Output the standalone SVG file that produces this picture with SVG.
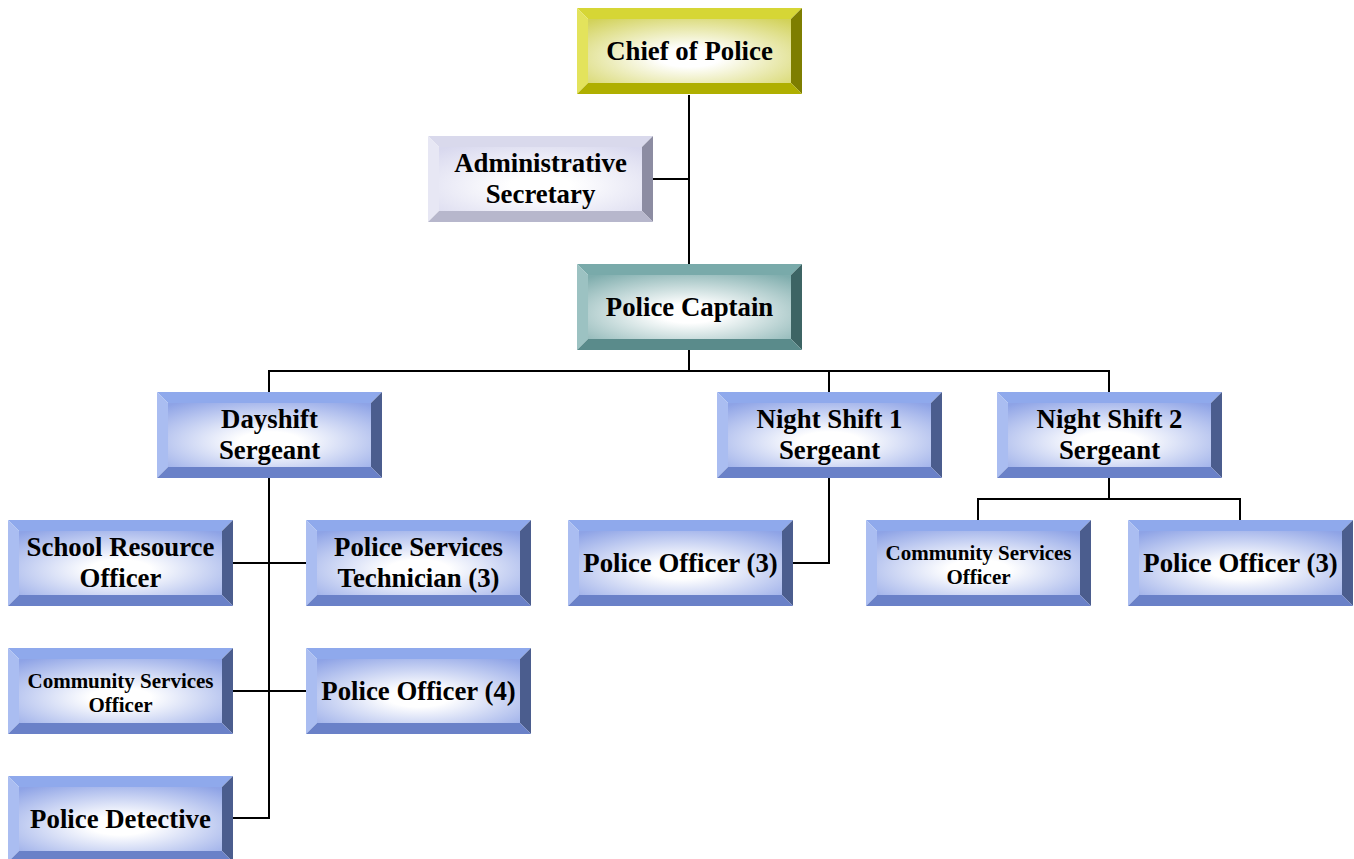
<svg xmlns="http://www.w3.org/2000/svg" xmlns:xlink="http://www.w3.org/1999/xlink" width="1354" height="859" viewBox="0 0 1354 859">
<style>
text{font-family:"Liberation Serif","Times New Roman",serif;font-weight:bold;font-size:26.8px;fill:#000;text-anchor:middle}
text.sm{font-size:21px}
.conn path{fill:none;stroke:#000;stroke-width:2}
</style>
<defs>
<radialGradient id="gB" cx="0.5" cy="0.6" r="0.75"><stop offset="0.2" stop-color="#fff"/><stop offset="1" stop-color="#8ea3e6"/></radialGradient>
<radialGradient id="gY" cx="0.5" cy="0.6" r="0.75"><stop offset="0.2" stop-color="#fff"/><stop offset="1" stop-color="#d2d25a"/></radialGradient>
<radialGradient id="gL" cx="0.5" cy="0.6" r="0.75"><stop offset="0.2" stop-color="#fff"/><stop offset="1" stop-color="#d8d8ee"/></radialGradient>
<radialGradient id="gT" cx="0.5" cy="0.6" r="0.75"><stop offset="0.2" stop-color="#fff"/><stop offset="1" stop-color="#7fadad"/></radialGradient>
<g id="boxB">
<polygon points="0,0 225,0 214,11 11,11" fill="#8fa9ec"/>
<polygon points="0,0 11,11 11,75 0,86" fill="#aabdf1"/>
<polygon points="225,0 225,86 214,75 214,11" fill="#4b5d8e"/>
<polygon points="0,86 225,86 214,75 11,75" fill="#6a81c8"/>
<rect x="11" y="11" width="203" height="64" fill="url(#gB)"/>
</g>
<g id="boxY">
<polygon points="0,0 225,0 214,11 11,11" fill="#d6d635"/>
<polygon points="0,0 11,11 11,75 0,86" fill="#e3e35c"/>
<polygon points="225,0 225,86 214,75 214,11" fill="#7e7e00"/>
<polygon points="0,86 225,86 214,75 11,75" fill="#afaf00"/>
<rect x="11" y="11" width="203" height="64" fill="url(#gY)"/>
</g>
<g id="boxL">
<polygon points="0,0 225,0 214,11 11,11" fill="#d9d9ec"/>
<polygon points="0,0 11,11 11,75 0,86" fill="#e7e7f4"/>
<polygon points="225,0 225,86 214,75 214,11" fill="#8c8ca2"/>
<polygon points="0,86 225,86 214,75 11,75" fill="#b7b7cc"/>
<rect x="11" y="11" width="203" height="64" fill="url(#gL)"/>
</g>
<g id="boxT">
<polygon points="0,0 225,0 214,11 11,11" fill="#79aaaa"/>
<polygon points="0,0 11,11 11,75 0,86" fill="#9cc2c2"/>
<polygon points="225,0 225,86 214,75 214,11" fill="#3d6464"/>
<polygon points="0,86 225,86 214,75 11,75" fill="#5a8b8b"/>
<rect x="11" y="11" width="203" height="64" fill="url(#gT)"/>
</g>
</defs>
<g class="conn">
<path d="M689,95 V264"/>
<path d="M653,179 H689"/>
<path d="M689,350 V371"/>
<path d="M269,392 V371 H1109 V392"/>
<path d="M829,371 V392"/>
<path d="M269,478 V818 H233"/>
<path d="M233,563 H306"/>
<path d="M233,691 H306"/>
<path d="M829,478 V563 H793"/>
<path d="M1109,478 V499"/>
<path d="M978,520 V499 H1240 V520"/>
</g>
<g id="chief"><use xlink:href="#boxY" x="577" y="8"/><text x="689.5" y="60">Chief of Police</text></g>
<g id="admin"><use xlink:href="#boxL" x="428" y="136"/><text x="540.5" y="172">Administrative</text><text x="540.5" y="203">Secretary</text></g>
<g id="captain"><use xlink:href="#boxT" x="577" y="264"/><text x="689.5" y="316">Police Captain</text></g>
<g id="dayshift"><use xlink:href="#boxB" x="157" y="392"/><text x="269.5" y="428">Dayshift</text><text x="269.5" y="459">Sergeant</text></g>
<g id="night1"><use xlink:href="#boxB" x="717" y="392"/><text x="829.5" y="428">Night Shift 1</text><text x="829.5" y="459">Sergeant</text></g>
<g id="night2"><use xlink:href="#boxB" x="997" y="392"/><text x="1109.5" y="428">Night Shift 2</text><text x="1109.5" y="459">Sergeant</text></g>
<g id="sro"><use xlink:href="#boxB" x="8" y="520"/><text x="120.5" y="556">School Resource</text><text x="120.5" y="587">Officer</text></g>
<g id="pst"><use xlink:href="#boxB" x="306" y="520"/><text x="418.5" y="556">Police Services</text><text x="418.5" y="587">Technician (3)</text></g>
<g id="po3a"><use xlink:href="#boxB" x="568" y="520"/><text x="680.5" y="572">Police Officer (3)</text></g>
<g id="cso2"><use xlink:href="#boxB" x="866" y="520"/><text class="sm" x="978.5" y="560">Community Services</text><text class="sm" x="978.5" y="584">Officer</text></g>
<g id="po3b"><use xlink:href="#boxB" x="1128" y="520"/><text x="1240.5" y="572">Police Officer (3)</text></g>
<g id="cso1"><use xlink:href="#boxB" x="8" y="648"/><text class="sm" x="120.5" y="688">Community Services</text><text class="sm" x="120.5" y="712">Officer</text></g>
<g id="po4"><use xlink:href="#boxB" x="306" y="648"/><text x="418.5" y="700">Police Officer (4)</text></g>
<g id="detective"><use xlink:href="#boxB" x="8" y="776"/><text x="120.5" y="828">Police Detective</text></g>
</svg>
